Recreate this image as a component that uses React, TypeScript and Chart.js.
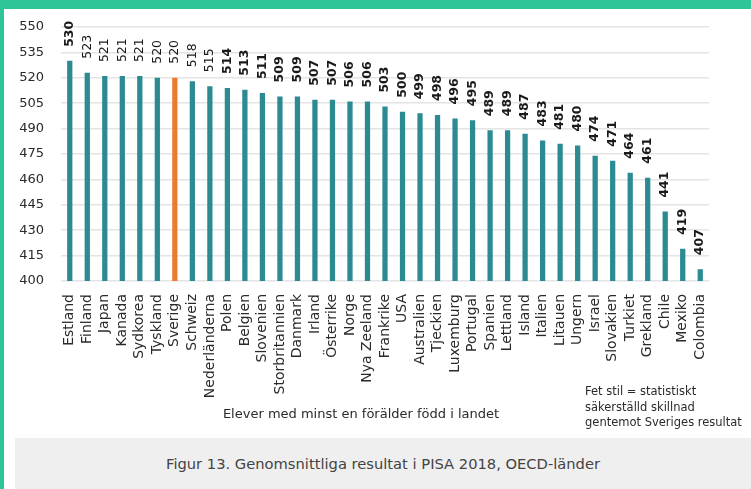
import React, { useEffect, useRef } from "react";
import { Chart, registerables } from "chart.js";

Chart.register(...registerables);

const countries = [
  "Estland", "Finland", "Japan", "Kanada", "Sydkorea", "Tyskland", "Sverige", "Schweiz",
  "Nederländerna", "Polen", "Belgien", "Slovenien", "Storbritannien", "Danmark", "Irland",
  "Österrike", "Norge", "Nya Zeeland", "Frankrike", "USA", "Australien", "Tjeckien",
  "Luxemburg", "Portugal", "Spanien", "Lettland", "Island", "Italien", "Litauen", "Ungern",
  "Israel", "Slovakien", "Turkiet", "Grekland", "Chile", "Mexiko", "Colombia",
];

const scores = [
  530, 523, 521, 521, 521, 520, 520, 518, 515, 514, 513, 511, 509, 509, 507, 507, 506, 506,
  503, 500, 499, 498, 496, 495, 489, 489, 487, 483, 481, 480, 474, 471, 464, 461, 441, 419, 407,
];

// bold = statistically significant difference compared with Sweden
const significant = [
  true, false, false, false, false, false, false, false, false, true, true, true, true, true,
  true, true, true, true, true, true, true, true, true, true, true, true, true, true, true,
  true, true, true, true, true, true, true, true,
];

const highlightCountry = "Sverige";
const yTicks = [400, 415, 430, 445, 460, 475, 490, 505, 520, 535, 550];

const axisTitle = "Elever med minst en förälder född i landet";
const noteLines = ["Fet stil = statistiskt", "säkerställd skillnad", "gentemot Sveriges resultat"];
const caption = "Figur 13. Genomsnittliga resultat i PISA 2018, OECD-länder";

const TEAL = "#2b8a92";
const ORANGE = "#ec7a2c";
const FONT = '"DejaVu Sans", sans-serif';

export default function App() {
  const ref = useRef<HTMLCanvasElement>(null);

  useEffect(() => {
    document.body.style.margin = "0";
    const valueLabels = {
      id: "valueLabels",
      afterDatasetsDraw(chart: any) {
        const ctx = chart.ctx;
        const meta = chart.getDatasetMeta(0);
        meta.data.forEach((bar: any, i: number) => {
          ctx.save();
          ctx.translate(bar.x, bar.y - 14);
          ctx.rotate(-Math.PI / 2);
          ctx.font = `${significant[i] ? "bold " : ""}12.5px ${FONT}`;
          ctx.fillStyle = "#1a1a1a";
          ctx.textAlign = "left";
          ctx.textBaseline = "middle";
          ctx.fillText(String(scores[i]), 0, 0);
          ctx.restore();
        });
      },
    };

    const chart = new Chart(ref.current as HTMLCanvasElement, {
      type: "bar",
      data: {
        labels: countries,
        datasets: [
          {
            data: scores,
            backgroundColor: countries.map((c) => (c === highlightCountry ? ORANGE : TEAL)),
            barPercentage: 0.3,
            categoryPercentage: 1,
          },
        ],
      },
      options: {
        responsive: false,
        animation: false,
        layout: { padding: { top: 17, right: 42, left: 0, bottom: 0 } },
        plugins: { legend: { display: false }, tooltip: { enabled: false } },
        scales: {
          x: {
            grid: { display: false },
            border: { display: false },
            ticks: {
              minRotation: 90,
              maxRotation: 90,
              autoSkip: false,
              padding: 5,
              color: "#2a2a2a",
              font: { family: FONT, size: 14 },
            },
            afterFit: (s: any) => {
              s.height = 157;
            },
          },
          y: {
            min: 400,
            max: 550,
            afterBuildTicks: (s: any) => {
              s.ticks = yTicks.map((v) => ({ value: v }));
            },
            ticks: {
              padding: 2,
              color: "#2a2a2a",
              font: { family: FONT, size: 13 },
            },
            grid: {
              color: "#e4e4e4",
              lineWidth: 1.5,
              drawTicks: true,
              tickLength: 15,
              tickColor: "rgba(0,0,0,0)",
            },
            border: { display: false },
            afterFit: (s: any) => {
              s.width = 57;
            },
          },
        },
      },
      plugins: [valueLabels],
    });
    return () => chart.destroy();
  }, []);

  return (
    <div
      style={{
        position: "absolute",
        left: 0,
        top: 0,
        width: 751,
        height: 489,
        background: "#2fc598",
        overflow: "hidden",
      }}
    >
      <div
        style={{ position: "absolute", left: 4, top: 9, width: 747, height: 480, background: "#ffffff" }}
      />
      <div
        style={{ position: "absolute", left: 15, top: 438, width: 736, height: 51, background: "#efefef" }}
      />
      <canvas
        ref={ref}
        width={747}
        height={428}
        style={{ position: "absolute", left: 4, top: 10, width: 747, height: 428 }}
      />
      <div
        style={{
          position: "absolute",
          left: 200,
          top: 406,
          width: 322,
          textAlign: "center",
          fontFamily: FONT,
          fontSize: 13,
          color: "#2a2a2a",
          whiteSpace: "nowrap",
        }}
      >
        {axisTitle}
      </div>
      <div
        style={{
          position: "absolute",
          left: 585,
          top: 384,
          fontFamily: FONT,
          fontSize: 11.5,
          lineHeight: "15.5px",
          color: "#2a2a2a",
          whiteSpace: "nowrap",
        }}
      >
        {noteLines.map((l) => (
          <div key={l}>{l}</div>
        ))}
      </div>
      <div
        style={{
          position: "absolute",
          left: 15,
          top: 455,
          width: 736,
          textAlign: "center",
          fontFamily: FONT,
          fontSize: 14.7,
          color: "#444444",
          whiteSpace: "nowrap",
        }}
      >
        {caption}
      </div>
    </div>
  );
}
